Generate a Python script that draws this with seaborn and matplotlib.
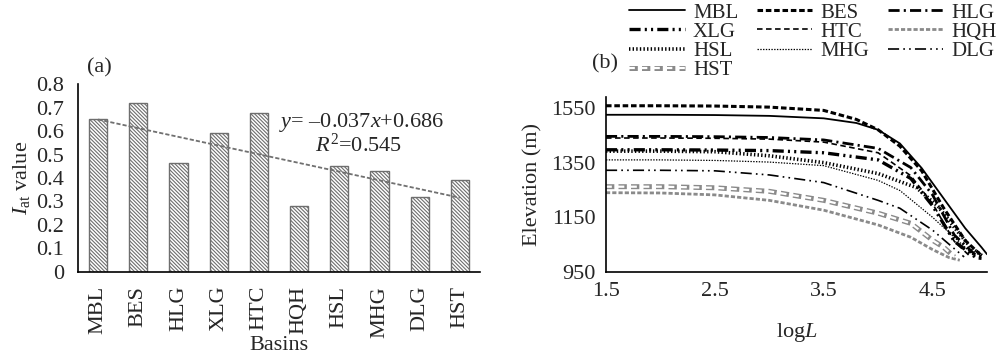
"""
Two-panel figure: I_at value by basin (bars + trend) and hypsometric-style curves
"""
import numpy as np
import pandas as pd
import matplotlib
matplotlib.use("Agg")
import matplotlib.pyplot as plt
import seaborn as sns

# ---- data, panel (a) ----
basins = ["MBL", "BES", "HLG", "XLG", "HTC", "HQH", "HSL", "MHG", "DLG", "HST"]
iat_values = [0.65, 0.72, 0.465, 0.59, 0.675, 0.28, 0.45, 0.43, 0.32, 0.39]
trend_slope = -0.037
trend_intercept = 0.686

# ---- data, panel (b) ----
logl_mbl = [1.5, 2.0, 2.5, 3.0, 3.5, 3.8, 4.0, 4.2, 4.4, 4.6, 4.8, 4.95, 5.0]
elev_mbl = [1525, 1525, 1524, 1521, 1512, 1495, 1470, 1420, 1330, 1220, 1110, 1040, 1015]
logl_bes = [1.5, 2.0, 2.5, 3.0, 3.5, 3.8, 4.0, 4.2, 4.4, 4.6, 4.8, 4.95]
elev_bes = [1558, 1558, 1557, 1553, 1541, 1508, 1470, 1410, 1320, 1185, 1065, 1010]
logl_hlg = [1.5, 2.0, 2.5, 3.0, 3.5, 4.0, 4.3, 4.5, 4.7, 4.9, 4.97]
elev_hlg = [1446, 1446, 1445, 1442, 1433, 1402, 1332, 1232, 1085, 1010, 1005]
logl_xlg = [1.5, 2.0, 2.5, 3.0, 3.5, 4.0, 4.3, 4.5, 4.7, 4.9, 4.95]
elev_xlg = [1397, 1397, 1396, 1394, 1386, 1360, 1292, 1192, 1062, 1002, 1000]
logl_htc = [1.5, 2.0, 2.5, 3.0, 3.5, 4.0, 4.3, 4.5, 4.7, 4.85]
elev_htc = [1440, 1440, 1439, 1436, 1425, 1386, 1302, 1200, 1062, 1005]
logl_hqh = [1.5, 2.0, 2.5, 3.0, 3.5, 4.0, 4.3, 4.5, 4.65, 4.75]
elev_hqh = [1240, 1239, 1232, 1212, 1176, 1122, 1077, 1032, 1003, 993]
logl_hsl = [1.5, 2.0, 2.5, 3.0, 3.5, 4.0, 4.35, 4.55, 4.72, 4.85, 4.96]
elev_hsl = [1392, 1392, 1390, 1375, 1350, 1310, 1259, 1190, 1103, 1040, 1008]
logl_mhg = [1.5, 2.0, 2.5, 3.0, 3.5, 4.0, 4.2, 4.5, 4.8, 4.89]
elev_mhg = [1360, 1360, 1358, 1352, 1339, 1285, 1248, 1150, 1040, 1005]
logl_dlg = [1.5, 2.0, 2.5, 3.0, 3.5, 4.0, 4.2, 4.5, 4.7, 4.79]
elev_dlg = [1322, 1322, 1320, 1305, 1277, 1212, 1183, 1103, 1035, 1005]
logl_hst = [1.5, 2.0, 2.5, 3.0, 3.5, 4.0, 4.3, 4.5, 4.6, 4.7]
elev_hst = [1262, 1262, 1258, 1245, 1212, 1165, 1128, 1066, 1041, 1005]

# ---- style ----
sns.set_style("white")
plt.rcParams["font.family"] = ["Liberation Serif", "DejaVu Serif"]
plt.rcParams["mathtext.fontset"] = "custom"
plt.rcParams["mathtext.rm"] = "Liberation Serif"
plt.rcParams["mathtext.it"] = "Liberation Serif:italic"
plt.rcParams["lines.scale_dashes"] = False
plt.rcParams["hatch.linewidth"] = 0.8
fs = 16
H = 356.0

fig = plt.figure(figsize=(10, 3.56), dpi=100)
ax1 = fig.add_axes([0.078, 0.236, 0.402, 0.528])
ax2 = fig.add_axes([0.606, 0.236, 0.381, 0.4915])

# ---- panel (a) ----
sns.barplot(x=basins, y=iat_values, ax=ax1, color="white", edgecolor="#6e6e6e",
            hatch="\\" * 9, width=0.45, linewidth=1.0)
xs_trend = np.array([1, len(basins)])
ax1.plot(xs_trend - 1, trend_slope * xs_trend + trend_intercept,
         color="#707070", linestyle=(0, (3, 1.5)), linewidth=1.3)
ax1.set_ylim(0, 0.8)
ax1.set_xlim(-0.5, len(basins) - 0.5)
ax1.set_yticks(np.arange(0, 0.81, 0.1))
ax1.set_yticklabels(["0"] + [f"{v:.1f}" for v in np.arange(0.1, 0.81, 0.1)])
ax1.set_xticks(range(len(basins)))
ax1.set_xticklabels(basins, rotation=90)
ax1.set_xticks(np.arange(-0.5, len(basins), 1.0), minor=True)
ax1.tick_params(axis="x", which="major", length=0, labelsize=fs, pad=10)
ax1.tick_params(axis="x", which="minor", length=5, width=1.2, direction="out", color="black")
ax1.tick_params(axis="y", length=5, width=1.2, direction="out", color="black",
                labelsize=fs, pad=5)
for s in ["top", "right"]:
    ax1.spines[s].set_visible(False)
for s in ["left", "bottom"]:
    ax1.spines[s].set_color("black")
    ax1.spines[s].set_linewidth(1.2)
ax1.set_xlabel("Basins", fontsize=fs, labelpad=-1)
ax1.set_ylabel(r"$I_{\rm at}$ value", fontsize=fs, labelpad=3)
fig.text(0.361, 1 - 122 / H, r"$y$= –0.037$x$+0.686", fontsize=fs,
         ha="center", va="center")
fig.text(0.359, 1 - 145 / H, r"$R^2$=0.545", fontsize=fs,
         ha="center", va="center")
fig.text(0.087, 1 - 68 / H, "(a)", fontsize=fs, va="center")

# ---- panel (b) ----
series = [
    ("MBL", logl_mbl, elev_mbl, "black", 1.3, "-"),
    ("BES", logl_bes, elev_bes, "black", 2.2, (0, (4, 2))),
    ("HLG", logl_hlg, elev_hlg, "black", 2.0, (0, (8, 3, 1.5, 3))),
    ("XLG", logl_xlg, elev_xlg, "black", 2.4, (0, (8, 3, 1.5, 3, 1.5, 3))),
    ("HTC", logl_htc, elev_htc, "black", 1.2, (0, (4, 2.5))),
    ("HQH", logl_hqh, elev_hqh, "#8a8a8a", 2.0, (0, (3, 1.5))),
    ("HSL", logl_hsl, elev_hsl, "black", 2.6, (0, (1, 1.6))),
    ("MHG", logl_mhg, elev_mhg, "black", 0.9, (0, (1, 1))),
    ("DLG", logl_dlg, elev_dlg, "black", 1.2, (0, (8, 3, 1.2, 3, 1.2, 3))),
]
handles = {}
for name, xs, ys, c, lw, ls in series:
    df = pd.DataFrame({"logL": xs, "Elevation": ys})
    sns.lineplot(data=df, x="logL", y="Elevation", ax=ax2, color=c,
                 linewidth=lw, linestyle=ls)
    handles[name] = ax2.get_lines()[-1]

# HST: hollow gray dashes
df_hst = pd.DataFrame({"logL": logl_hst, "Elevation": elev_hst})
sns.lineplot(data=df_hst, x="logL", y="Elevation", ax=ax2, color="#8a8a8a",
             linewidth=3.6, linestyle=(0, (6, 3)))
hst_outer = ax2.get_lines()[-1]
sns.lineplot(data=df_hst, x="logL", y="Elevation", ax=ax2, color="white",
             linewidth=1.6, linestyle=(0.6, (4.8, 4.2)))
hst_inner = ax2.get_lines()[-1]
handles["HST"] = (hst_outer, hst_inner)

ax2.set_xlim(1.5, 5.0)
ax2.set_ylim(950, 1590)
ax2.set_xticks([1.5, 2.5, 3.5, 4.5])
ax2.set_yticks([950, 1150, 1350, 1550])
ax2.tick_params(axis="both", length=8, width=1.2, direction="inout",
                labelsize=fs, color="black")
for s in ["top", "right"]:
    ax2.spines[s].set_visible(False)
for s in ["left", "bottom"]:
    ax2.spines[s].set_color("black")
    ax2.spines[s].set_linewidth(1.2)
ax2.set_xlabel(r"log$L$", fontsize=fs, labelpad=14)
ax2.set_ylabel("Elevation (m)", fontsize=fs, labelpad=6)
fig.text(0.592, 1 - 64 / H, "(b)", fontsize=fs, va="center")

order = ["MBL", "XLG", "HSL", "HST", "BES", "HTC", "MHG", "HLG", "HQH", "DLG"]
fig.legend([handles[n] for n in order], order, loc="upper left",
           bbox_to_anchor=(0.621, 1.015), ncol=3, frameon=False, fontsize=15,
           handlelength=2.65, handletextpad=0.4, columnspacing=0.9,
           labelspacing=-0.02, borderaxespad=0)

fig.savefig("out.png", dpi=100)
